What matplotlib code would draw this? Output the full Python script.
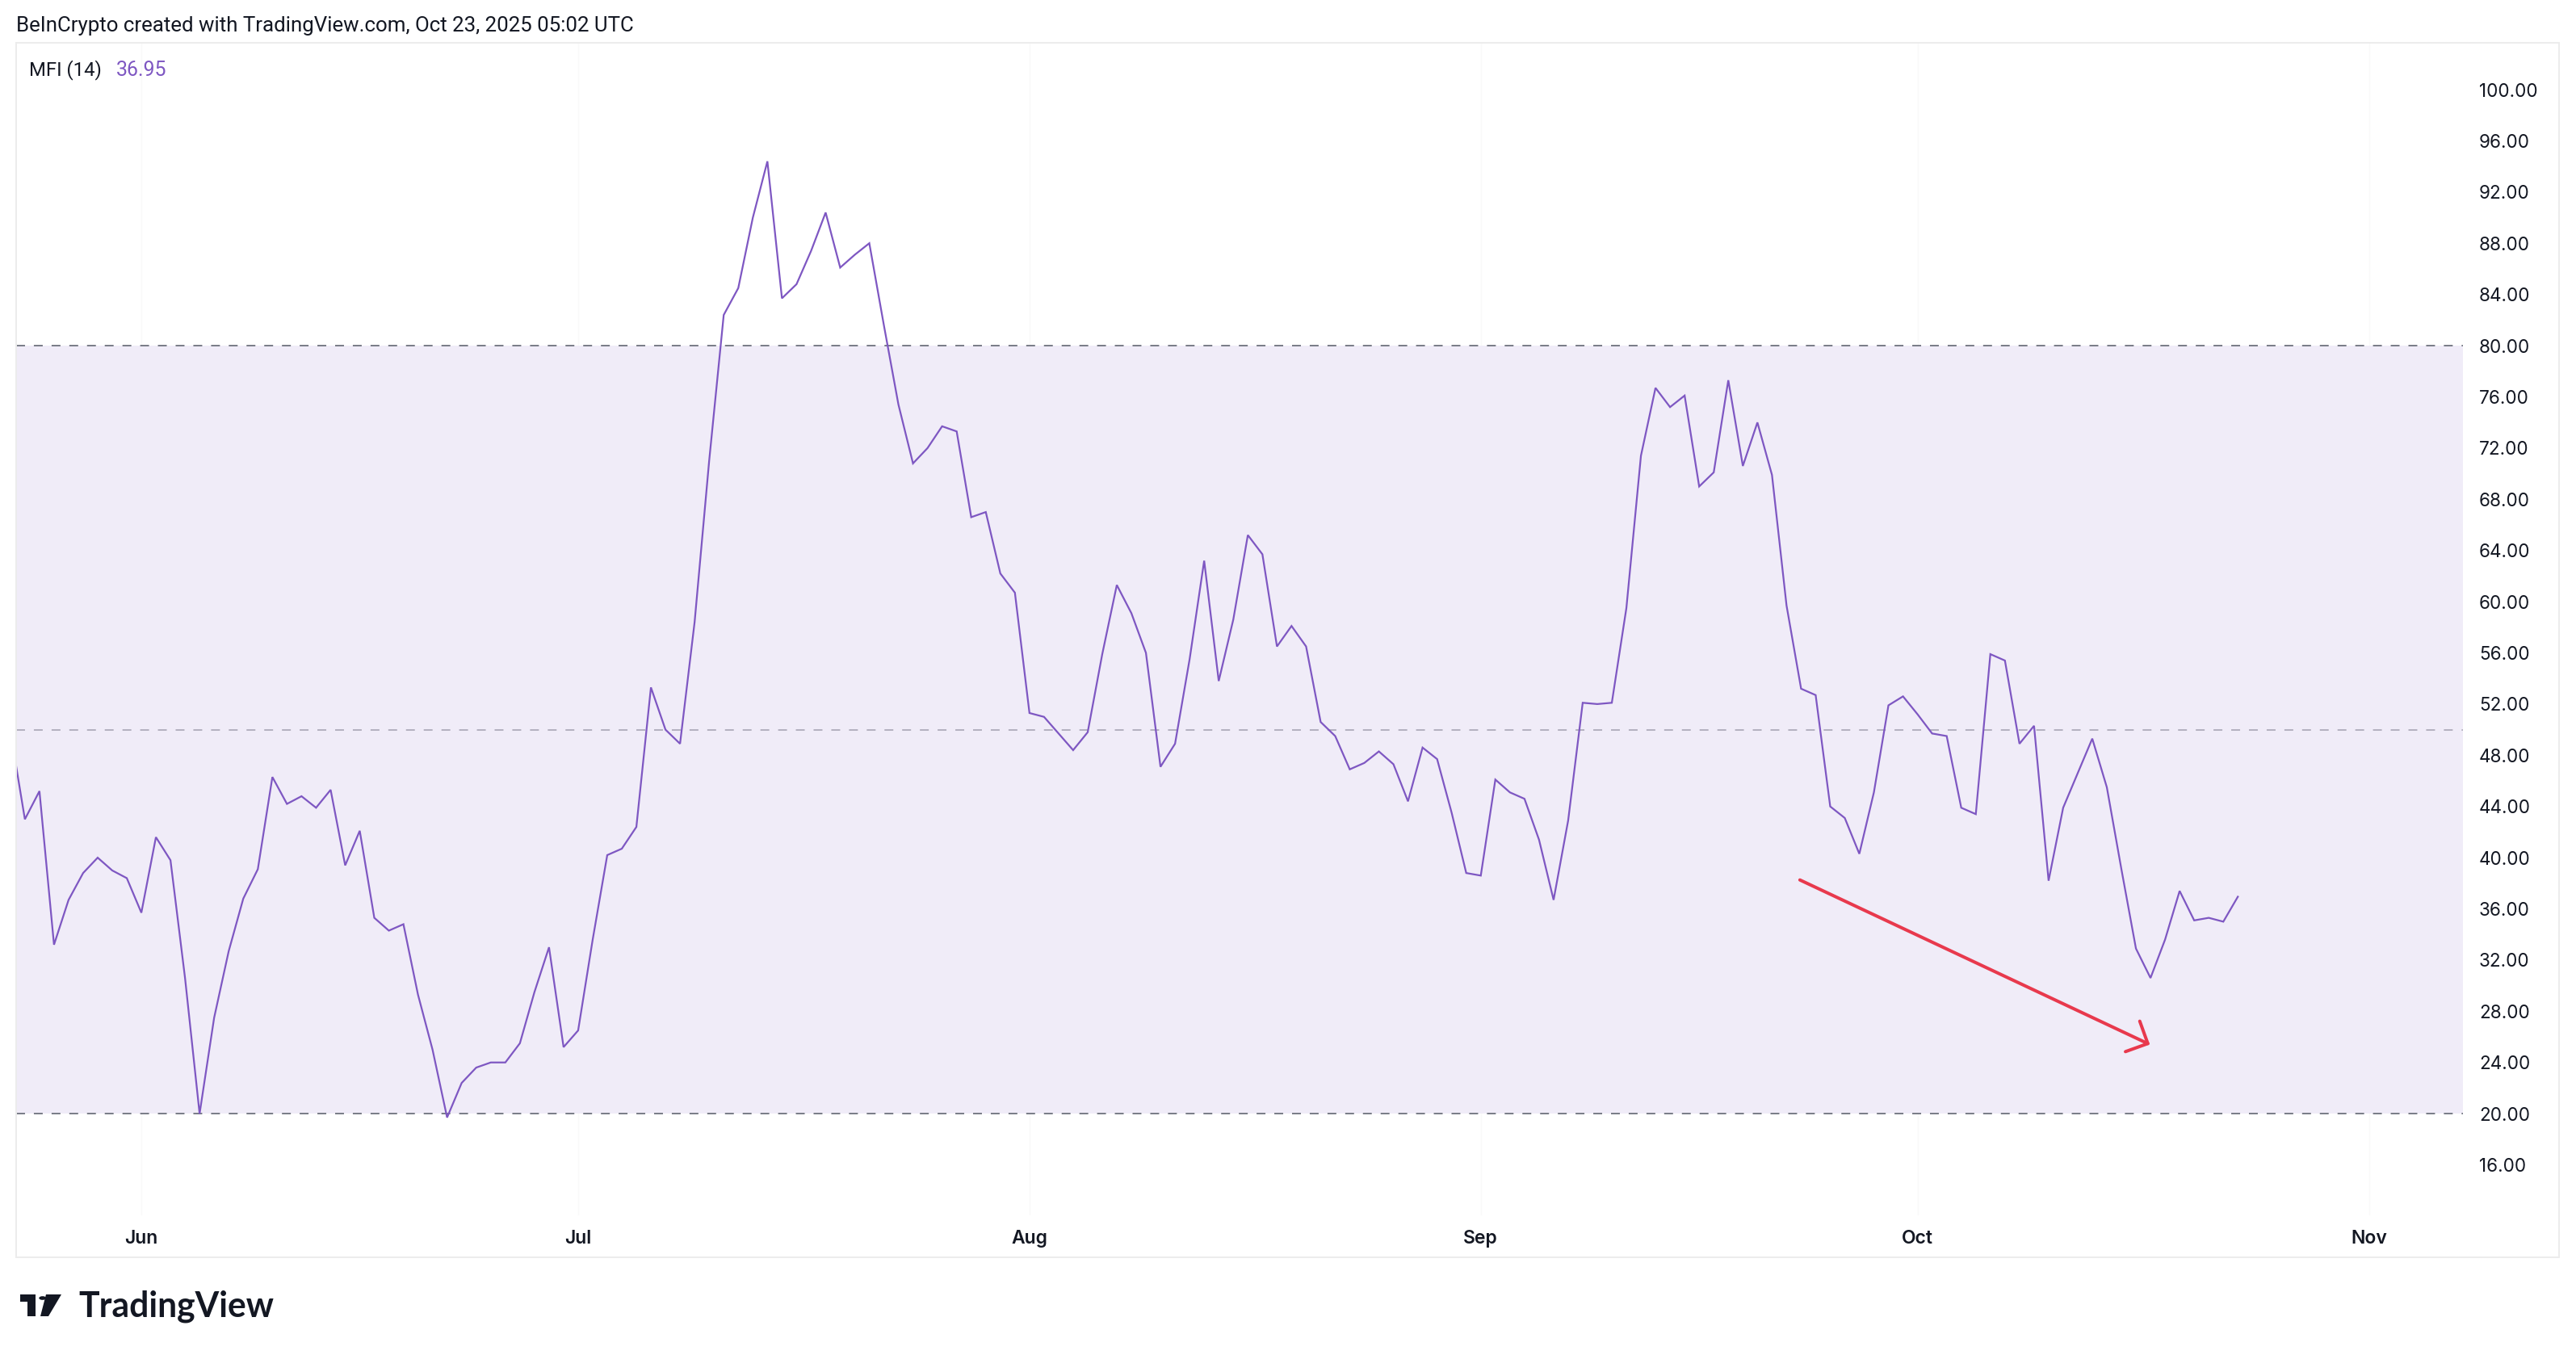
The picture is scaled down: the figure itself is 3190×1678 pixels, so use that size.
import matplotlib
matplotlib.use("Agg")
import matplotlib.pyplot as plt
import matplotlib.dates as mdates
from matplotlib.patches import Rectangle, Polygon, Circle
import numpy as np
import pandas as pd

# ---------------- data ----------------
start_date = "2025-05-23"
mfi = [
    49.9, 43.0, 45.2, 33.2, 36.7, 38.8, 40.0, 39.0, 38.4,                      # May 23-31
    35.7, 41.6, 39.8, 30.6, 20.0, 27.5, 32.7, 36.8, 39.1, 46.3,                # Jun 1-10
    44.2, 44.8, 43.9, 45.3, 39.4, 42.1, 35.3, 34.3, 34.8, 29.3,                # Jun 11-20
    25.0, 19.7, 22.4, 23.6, 24.0, 24.0, 25.5, 29.5, 33.0, 25.2,                # Jun 21-30
    26.5, 33.6, 40.2, 40.7, 42.4, 53.3, 50.0, 48.9, 58.4, 71.0,                # Jul 1-10
    82.4, 84.5, 90.0, 94.4, 83.7, 84.8, 87.4, 90.4, 86.1, 87.1,                # Jul 11-20
    88.0, 81.6, 75.4, 70.8, 72.0, 73.7, 73.3, 66.6, 67.0, 62.2, 60.7,          # Jul 21-31
    51.3, 51.0, 49.7, 48.4, 49.8, 55.9, 61.3, 59.1, 56.0, 47.1,                # Aug 1-10
    48.9, 55.5, 63.2, 53.8, 58.6, 65.2, 63.7, 56.5, 58.1, 56.5,                # Aug 11-20
    50.6, 49.5, 46.9, 47.4, 48.3, 47.3, 44.4, 48.6, 47.7, 43.5, 38.8,          # Aug 21-31
    38.6, 46.1, 45.1, 44.6, 41.4, 36.7, 42.9, 52.1, 52.0, 52.1,                # Sep 1-10
    59.5, 71.4, 76.7, 75.2, 76.1, 69.0, 70.1, 77.3, 70.6, 74.0,                # Sep 11-20
    69.9, 59.7, 53.2, 52.7, 44.0, 43.1, 40.3, 45.1, 51.9, 52.6,                # Sep 21-30
    51.2, 49.7, 49.5, 43.9, 43.4, 55.9, 55.4, 48.9, 50.3, 38.2,                # Oct 1-10
    43.9, 46.6, 49.3, 45.5, 39.1, 32.9, 30.6, 33.6, 37.4, 35.1,                # Oct 11-20
    35.3, 35.0, 36.95,                                                         # Oct 21-23
]
dates = pd.date_range(start_date, periods=len(mfi), freq="D")

month_ticks = ["2025-06-01", "2025-07-01", "2025-08-01", "2025-09-01", "2025-10-01", "2025-11-01"]
month_labels = ["Jun", "Jul", "Aug", "Sep", "Oct", "Nov"]
y_ticks = [16, 20, 24, 28, 32, 36, 40, 44, 48, 52, 56, 60, 64, 68, 72, 76, 80, 84, 88, 92, 96, 100]
upper_band, middle_band, lower_band = 80, 50, 20
arrow_start = ("2025-09-22 22:00", 38.26)
arrow_end = ("2025-10-16 23:00", 25.4)

header = "BeInCrypto created with TradingView.com, Oct 23, 2025 05:02 UTC"
ind_name = "MFI (14)"
ind_value = "36.95"

# ---------------- style ----------------
W, H = 3190, 1678
PURPLE = "#7e57c2"
FILL = "#f0ecf8"
BAND = "#787b86"
MID = "#b3b0bf"
RED = "#e8394d"
TXT = "#131722"
plt.rcParams["lines.scale_dashes"] = False

fig = plt.figure(figsize=(W / 100, H / 100), dpi=100)
fig.patch.set_facecolor("white")

L, R, T, B = 20, 3050, 53, 1505
ax = fig.add_axes([L / W, 1 - B / H, (R - L) / W, (B - T) / H])
ax.set_facecolor("white")
for s in ax.spines.values():
    s.set_visible(False)

# outer pane frame
fig.patches.append(Rectangle((20 / W, 1 - 1557 / H), (3169 - 20) / W, (1557 - 53) / H,
                             transform=fig.transFigure, fill=False,
                             edgecolor="#ececec", lw=1.4, zorder=0))

x0 = pd.Timestamp("2025-06-01")
ax.set_xlim(mdates.date2num(x0 - pd.Timedelta(days=8.6)), mdates.date2num(x0 + pd.Timedelta(days=159.46)))
ax.set_ylim(12.06, 103.66)

# very faint vertical month grid
for m in month_ticks:
    ax.axvline(mdates.date2num(pd.Timestamp(m)), color="#f9f9f9", lw=1.0, zorder=0)

# band
ax.axhspan(lower_band, upper_band, color=FILL, zorder=1, lw=0)
ax.axhline(upper_band, color=BAND, lw=1.4, dashes=(7.9, 7.9), zorder=2)
ax.axhline(lower_band, color=BAND, lw=1.4, dashes=(7.9, 7.9), zorder=2)
ax.axhline(middle_band, color=MID, lw=1.4, dashes=(7.9, 7.9), zorder=2)

# MFI line
ax.plot(mdates.date2num(dates), mfi, color=PURPLE, lw=1.6, zorder=3, solid_joinstyle="miter")

# red arrow
ax.annotate("", xy=(mdates.date2num(pd.Timestamp(arrow_end[0])), arrow_end[1]),
            xytext=(mdates.date2num(pd.Timestamp(arrow_start[0])), arrow_start[1]),
            arrowprops=dict(arrowstyle="->,head_length=0.75,head_width=0.75", mutation_scale=20,
                            color=RED, lw=2.9, shrinkA=0, shrinkB=0, capstyle="round"),
            zorder=4)

# axes ticks
ax.yaxis.tick_right()
ax.set_yticks(y_ticks)
ax.set_yticklabels([f"{v:.2f}" for v in y_ticks])
ax.tick_params(axis="y", length=0, pad=14.4, labelsize=16.2, labelcolor=TXT)
for lab in ax.get_yticklabels():
    lab.set_fontfamily("Inter")

ax.set_xticks([mdates.date2num(pd.Timestamp(m)) for m in month_ticks])
ax.set_xticklabels(month_labels)
ax.tick_params(axis="x", length=0, pad=13, labelsize=16.5, labelcolor=TXT)
for lab in ax.get_xticklabels():
    lab.set_fontfamily("Inter")
    lab.set_fontweight("semibold")

# texts
t_head = fig.text(20 / W, 1 - 32 / H, header, fontsize=14.5, family="Roboto", color=TXT, va="center")
t_name = fig.text(36 / W, 1 - 86.5 / H, ind_name, fontsize=15, family="Roboto", color=TXT, va="center")
t_val = fig.text(143.5 / W, 1 - 86.5 / H, ind_value, fontsize=15, family="Roboto", color=PURPLE, va="center")
t_logo = fig.text(97 / W, 1 - 1630 / H, "TradingView", fontsize=27, family="Lato", weight="bold",
                  color=TXT, va="baseline")

renderer = fig.canvas.get_renderer()
def fit(t, width_px):
    bb = t.get_window_extent(renderer)
    t.set_fontsize(t.get_fontsize() * width_px / bb.width)
fit(t_head, 763)
fit(t_name, 90)
fit(t_val, 63)
fit(t_logo, 241.6)

# TradingView logo mark
def fpt(x, y):
    return (x / W, 1 - y / H)
logo_color = TXT
fig.patches.append(Polygon([fpt(25, 1603), fpt(44.3, 1603), fpt(44.3, 1630), fpt(34.3, 1630),
                            fpt(34.3, 1611.7), fpt(25, 1611.7)], closed=True,
                           transform=fig.transFigure, facecolor=logo_color, edgecolor="none"))
fig.patches.append(Circle(fpt(52.7, 1607.5), 4.4 / W, transform=fig.transFigure,
                          facecolor=logo_color, edgecolor="none"))
fig.patches.append(Polygon([fpt(57, 1603), fpt(76, 1603), fpt(60, 1630), fpt(50, 1630)], closed=True,
                           transform=fig.transFigure, facecolor=logo_color, edgecolor="none"))

fig.savefig("out.png", dpi=100, facecolor="white")
